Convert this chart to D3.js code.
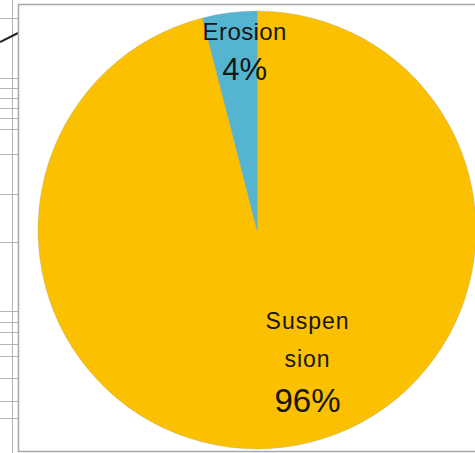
<!DOCTYPE html>
<html>
<head>
<meta charset="utf-8">
<script src="https://cdn.jsdelivr.net/npm/d3@7"></script>
<style>
  html, body { margin: 0; padding: 0; background: #fff; }
  svg { display: block; }
  text { font-family: "Liberation Sans", Arial, sans-serif; fill: #161616; }
</style>
</head>
<body>
<svg id="chart" width="475" height="453"></svg>
<script>
// Sediment transport split
const categories = ["Suspension", "Erosion"];
const shares = [96, 4];
const labelLines = [["Suspen", "sion"], ["Erosion"]];
const colors = ["#FBC000", "#55B5D0"];

// Worksheet rows peeking out to the left of the chart frame
const sheetRows = [18, 78, 88, 98, 108, 118, 129, 154, 194, 242, 311, 322, 332, 344, 356, 378, 401, 418];

const W = 475, H = 453;
const svg = d3.select("#chart");

// spreadsheet gridlines behind the chart object
const grid = svg.append("g").attr("stroke", "#b4b4b4").attr("stroke-width", 1);
grid.append("line").attr("x1", 12.5).attr("x2", 12.5).attr("y1", 0).attr("y2", H);
grid.selectAll("line.row").data(sheetRows).join("line")
  .attr("class", "row")
  .attr("x1", 0).attr("x2", 18)
  .attr("y1", d => d + 0.5).attr("y2", d => d + 0.5);
svg.append("line")
  .attr("x1", 0).attr("y1", 42).attr("x2", 18).attr("y2", 33)
  .attr("stroke", "#222").attr("stroke-width", 2);

// chart frame
svg.append("rect")
  .attr("x", 18.5).attr("y", 4.5).attr("width", 480).attr("height", 447)
  .attr("fill", "#fff").attr("stroke", "#a8a8a8").attr("stroke-width", 1.5);

const cx = 257, cy = 230, r = 219;
const g = svg.append("g").attr("transform", `translate(${cx},${cy})`);

const data = categories.map((c, i) => ({ name: c, value: shares[i], lines: labelLines[i], color: colors[i] }));
const pie = d3.pie().value(d => d.value).sort(null);
const arcs = pie(data);
const arc = d3.arc().innerRadius(0).outerRadius(r);

g.selectAll("path.slice").data(arcs).join("path")
  .attr("class", "slice")
  .attr("d", arc)
  .attr("fill", d => d.data.color)
  .attr("stroke", "rgba(150,150,150,0.35)")
  .attr("stroke-width", 0.8);

// labels: name lines followed by the percentage
const labelArc = [
  d3.arc().innerRadius(140).outerRadius(140),
  d3.arc().innerRadius(178).outerRadius(178)
];
const labelShift = [[33, -3], [10, -1]];
const nameSize = [23, 24];
const pctSize = [33, 31];

arcs.forEach((a, i) => {
  const [x0, y0] = labelArc[i].centroid(a);
  const x = x0 + labelShift[i][0];
  const y = y0 + labelShift[i][1];
  const lg = g.append("g").attr("transform", `translate(${x},${y})`);
  const lineH = i === 0 ? 38 : 0;
  const topBase = i === 0 ? -37 : -12;
  a.data.lines.forEach((t, k) => {
    lg.append("text")
      .attr("text-anchor", "middle")
      .attr("y", topBase + k * lineH)
      .attr("font-size", nameSize[i])
      .attr("letter-spacing", i === 0 ? 1 : 0.4)
      .text(t);
  });
  lg.append("text")
    .attr("text-anchor", "middle")
    .attr("y", i === 0 ? 46 : 28)
    .attr("font-size", pctSize[i])
    .text(Math.round(a.data.value) + "%");
});
</script>
</body>
</html>
